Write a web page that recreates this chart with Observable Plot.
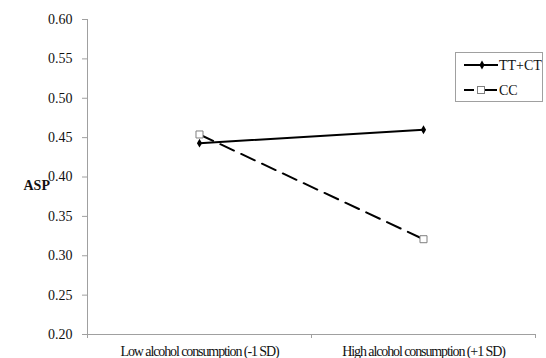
<!DOCTYPE html>
<html>
<head>
<meta charset="utf-8">
<script src="https://cdn.jsdelivr.net/npm/d3@7"></script>
<script src="https://cdn.jsdelivr.net/npm/@observablehq/plot@0.6"></script>
<style>
  html, body { margin: 0; padding: 0; background: #fff; }
  #wrap { position: relative; width: 546px; height: 358px; font-family: 'Liberation Serif', serif; }
  #legend { position: absolute; left: 455px; top: 52px; width: 86px; height: 48px; border: 1px solid #a0a0a0; background: #fff; }
</style>
</head>
<body>
<div id="wrap"><div id="chart"></div><div id="legend"></div></div>
<script>
// ---- data ----
const categories = ["Low alcohol consumption (-1 SD)", "High alcohol consumption (+1 SD)"];
const seriesNames = ["TT+CT", "CC"];
const ttctValues = [0.443, 0.460];
const ccValues = [0.454, 0.321];
const yTicks = [0.20, 0.25, 0.30, 0.35, 0.40, 0.45, 0.50, 0.55, 0.60];
const yLabel = "ASP";

const rows = (vals, s) => vals.map((v, i) => ({cat: categories[i], xi: i + 0.5, value: v, series: s}));
const ttRows = rows(ttctValues, seriesNames[0]);
const ccRows = rows(ccValues, seriesNames[1]);
const boundaries = d3.range(categories.length + 1);
const centers = categories.map((c, i) => i + 0.5);

const chart = Plot.plot({
  width: 546,
  height: 358,
  marginLeft: 87,
  marginRight: 11,
  marginTop: 19,
  marginBottom: 24,
  style: {fontFamily: "'Liberation Serif', serif", fontSize: "14px", color: "#111", background: "#fff"},
  x: {domain: [0, categories.length], axis: null},
  y: {domain: [0.2, 0.6], axis: null},
  marks: [
    Plot.ruleX([0], {stroke: "#a0a0a0"}),
    Plot.ruleY([0.2], {stroke: "#a0a0a0"}),
    Plot.axisY({ticks: yTicks, tickSize: 5, tickPadding: 10, tickFormat: d3.format(".2f"), label: null, stroke: "#a0a0a0", fill: "#111", fontSize: 14}),
    Plot.axisX({ticks: boundaries, tickSize: 4, tickFormat: () => "", label: null, stroke: "#a0a0a0"}),
    Plot.axisX({ticks: centers, tickSize: 0, tickPadding: 12, tickFormat: d => categories[Math.round(d - 0.5)], label: null, fill: "#111", fontSize: 14}),
    Plot.text([yLabel], {frameAnchor: "left", dx: -64, dy: 9, text: d => d, fontWeight: "bold", fontSize: 14, fill: "#111"}),
    Plot.line(ccRows, {x: "xi", y: "value", stroke: "black", strokeWidth: 2, strokeDasharray: "15,8"}),
    Plot.line(ttRows, {x: "xi", y: "value", stroke: "black", strokeWidth: 2}),
    Plot.dot(ccRows, {x: "xi", y: "value", symbol: "square", r: 3.95, fill: "white", stroke: "#7f7f7f", strokeWidth: 1}),
    Plot.dot(ttRows, {x: "xi", y: "value", symbol: "diamond", r: 2.7, fill: "black"})
  ]
});
chart.setAttribute("font-family", "'Liberation Serif', serif");
document.getElementById("chart").appendChild(chart);
d3.select(chart).selectAll("text").filter(function() { return categories.includes(this.textContent); })
  .attr("letter-spacing", "-1.1px");

// ---- legend ----
const lg = d3.select("#legend").append("svg").attr("width", 86).attr("height", 48)
  .attr("font-family", "'Liberation Serif', serif").style("font-size", "14px");
lg.append("line").attr("x1", 8).attr("x2", 42).attr("y1", 12).attr("y2", 12).attr("stroke", "black").attr("stroke-width", 2);
lg.append("path").attr("d", d3.symbol(d3.symbolDiamond, Math.PI * 2.7 * 2.7)()).attr("transform", "translate(26,12)").attr("fill", "black");
lg.append("text").attr("x", 43).attr("y", 12).attr("dy", "0.35em").text(seriesNames[0]).attr("fill", "#111");
lg.append("line").attr("x1", 8).attr("x2", 42).attr("y1", 37).attr("y2", 37).attr("stroke", "black").attr("stroke-width", 2).attr("stroke-dasharray", "10,8,15");
lg.append("rect").attr("x", 21.5).attr("y", 33.5).attr("width", 7).attr("height", 7).attr("fill", "white").attr("stroke", "#7f7f7f");
lg.append("text").attr("x", 43).attr("y", 37).attr("dy", "0.35em").text(seriesNames[1]).attr("fill", "#111");
</script>
</body>
</html>
